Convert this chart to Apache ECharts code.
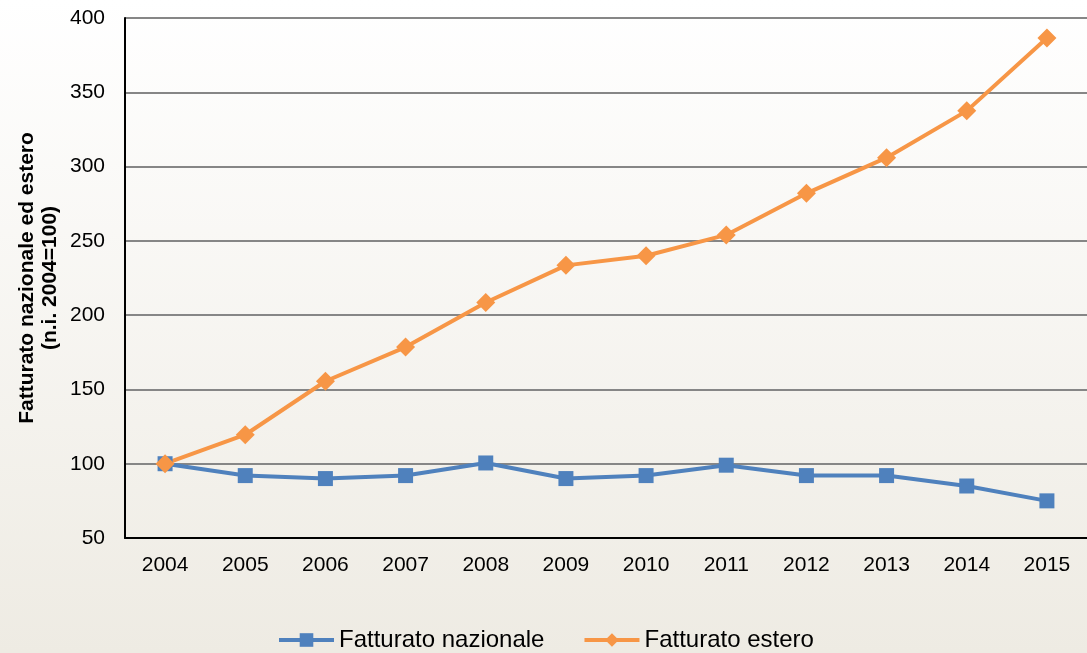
<!DOCTYPE html>
<html>
<head>
<meta charset="utf-8">
<script src="https://cdn.jsdelivr.net/npm/echarts@6/dist/echarts.min.js"></script>
<style>
  html, body { margin: 0; padding: 0; }
  #chart { width: 1087px; height: 653px; }
</style>
</head>
<body>
<div id="chart"></div>
<script>
// anni
const years = ["2004", "2005", "2006", "2007", "2008", "2009", "2010", "2011", "2012", "2013", "2014", "2015"];
// fatturato nazionale (n.i. 2004=100)
const nazionale = [100, 92, 90, 92, 100.5, 90, 92, 99, 92, 92, 85, 75];
// fatturato estero (n.i. 2004=100)
const estero = [100, 119.5, 155.5, 178.5, 208.5, 233.5, 240, 254, 282, 306, 337.5, 386.5];
const yTitle = "Fatturato nazionale ed estero\n(n.i. 2004=100)";

const chart = echarts.init(document.getElementById("chart"));
const option = {
  backgroundColor: new echarts.graphic.LinearGradient(0, 0, 0, 1, [
    { offset: 0, color: "#ffffff" },
    { offset: 1, color: "#eeebe3" }
  ]),
  animation: false,
  textStyle: { fontFamily: "Liberation Sans, Arial, sans-serif" },
  grid: { left: 125, top: 18, bottom: 115, right: -7, containLabel: false },
  // titolo asse y, ruotato
  graphic: [
    {
      type: "text",
      x: 39,
      y: 278,
      rotation: Math.PI / 2,
      style: {
        text: yTitle,
        fontSize: 21,
        fontWeight: "bold",
        fontFamily: "Liberation Sans, Arial, sans-serif",
        lineHeight: 23,
        fill: "#000",
        align: "center",
        verticalAlign: "middle"
      }
    }
  ],
  legend: {
    top: 628,
    left: 277,
    padding: 0,
    itemWidth: 55,
    itemHeight: 17,
    itemGap: 38,
    lineStyle: { width: 4 },
    textStyle: { fontSize: 24, color: "#000" },
    data: ["Fatturato nazionale", "Fatturato estero"]
  },
  xAxis: {
    type: "category",
    data: years,
    boundaryGap: true,
    axisLine: { lineStyle: { color: "#000", width: 2 } },
    axisTick: { show: false },
    axisLabel: { fontSize: 21, color: "#000", margin: 17 }
  },
  yAxis: {
    type: "value",
    min: 50,
    max: 400,
    interval: 50,
    axisLine: { show: true, lineStyle: { color: "#000", width: 2 } },
    axisTick: { show: false },
    axisLabel: { fontSize: 21, color: "#000", margin: 20 },
    splitLine: { lineStyle: { color: "#868686", width: 2 } }
  },
  series: [
    {
      name: "Fatturato nazionale",
      type: "line",
      data: nazionale,
      symbol: "rect",
      symbolSize: 15,
      itemStyle: { color: "#4f81bd" },
      lineStyle: { color: "#4f81bd", width: 4 }
    },
    {
      name: "Fatturato estero",
      type: "line",
      data: estero,
      symbol: "diamond",
      symbolSize: 19,
      itemStyle: { color: "#f79646" },
      lineStyle: { color: "#f79646", width: 4 }
    }
  ]
};
chart.setOption(option);
</script>
</body>
</html>
